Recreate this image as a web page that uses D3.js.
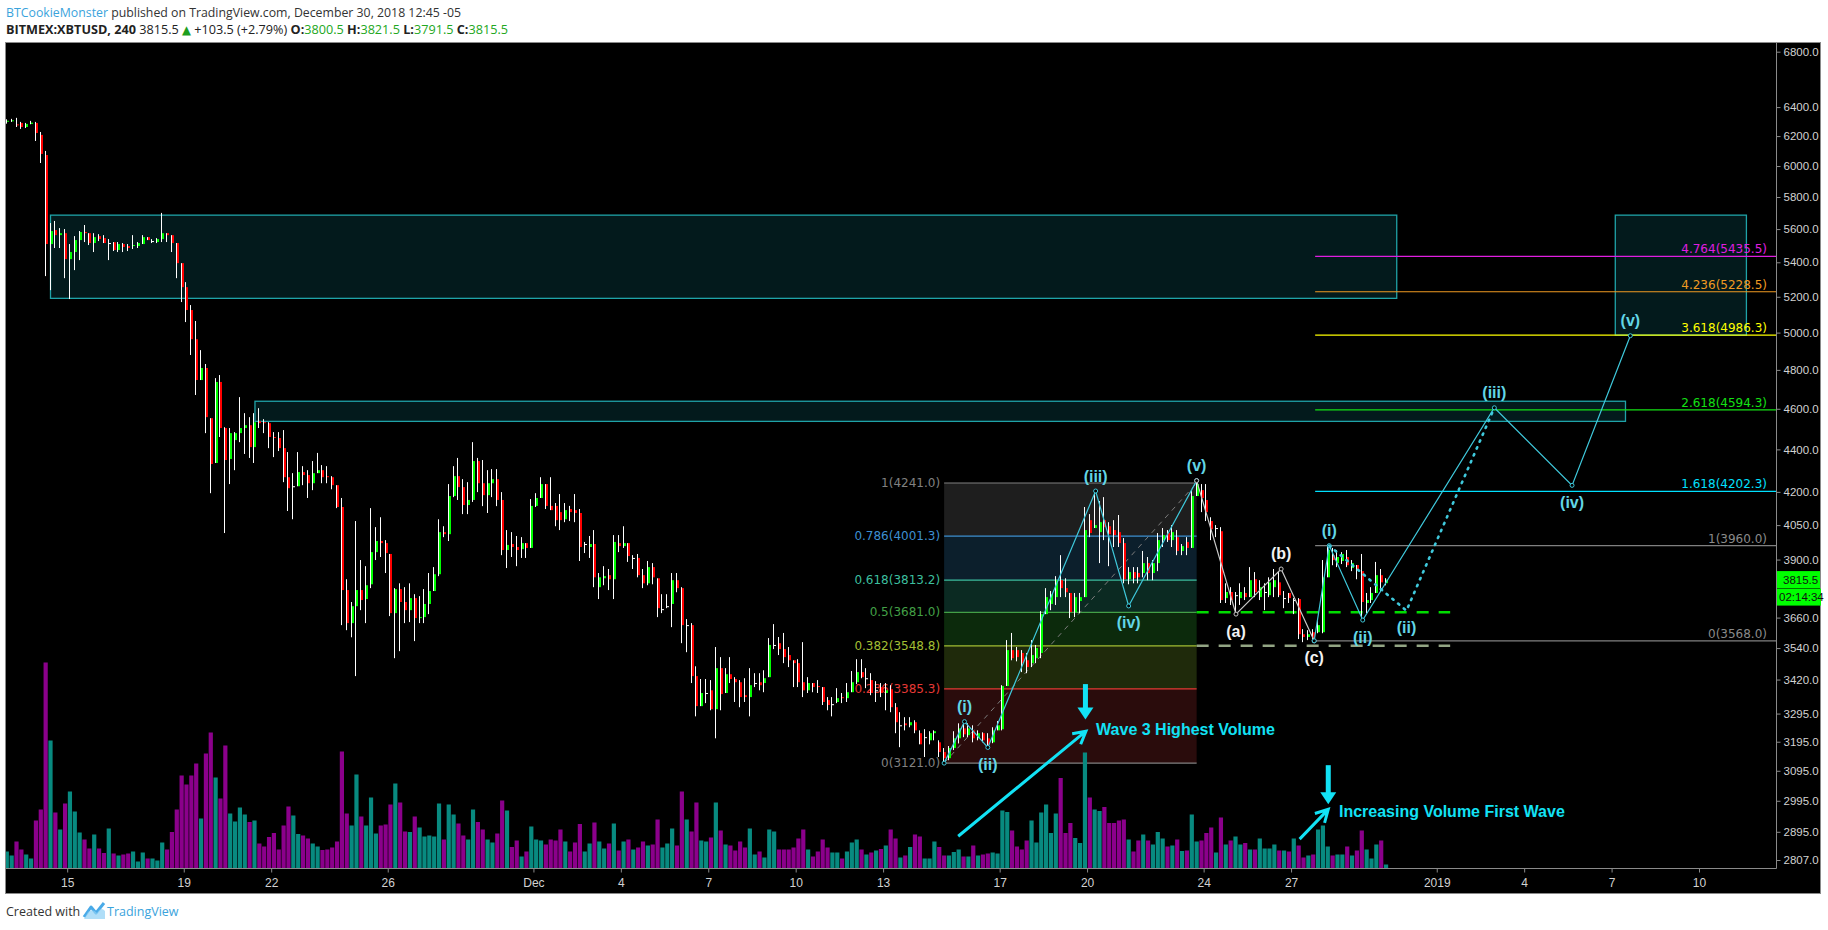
<!DOCTYPE html>
<html>
<head>
<meta charset="utf-8">
<script src="https://cdn.jsdelivr.net/npm/d3@7"></script>
<style>
body { margin: 0; background: #fff; }
svg { display: block; }
</style>
</head>
<body>
<svg id="chart" width="1828" height="930"></svg>
<script>
// BITMEX:XBTUSD 240 - elliott wave count

// bars: 4h candles, first one on Nov 12 late evening
var firstBar = Date.UTC(2018, 10, 12, 22, 15);
var barMs = 4 * 3600 * 1000;

// [open, high, low, close]
var candles = [
 [6300,6315,6285,6305],[6305,6318,6297,6308],[6280,6325,6262,6276],[6290,6297,6249,6262],[6262,6290,6255,6283],
 [6283,6304,6281,6292],[6290,6297,6167,6221],[6208,6228,6020,6080],[6073,6100,5319,5509],[5509,5637,5238,5588],
 [5594,5650,5485,5563],[5563,5606,5485,5575],[5575,5600,5307,5419],[5419,5509,5187,5461],[5461,5557,5354,5533],
 [5533,5588,5413,5582],[5582,5625,5521,5575],[5575,5575,5503,5515],[5515,5575,5461,5551],[5557,5569,5527,5539],
 [5545,5563,5515,5515],[5515,5539,5413,5515],[5520,5521,5467,5473],[5473,5521,5461,5509],[5509,5515,5461,5491],
 [5497,5509,5467,5485],[5497,5563,5479,5503],[5497,5521,5485,5515],[5509,5563,5509,5551],[5551,5551,5533,5533],
 [5527,5539,5515,5527],[5521,5545,5515,5539],[5539,5700,5521,5575],[5575,5575,5521,5563],[5563,5563,5461,5515],
 [5515,5515,5307,5395],[5395,5395,5170,5255],[5255,5284,5058,5125],[5125,5153,4879,4964],[4964,5064,4670,4747],
 [4747,4905,4747,4810],[4810,4831,4479,4558],[4553,4553,4194,4330],[4335,4757,4335,4737],[4737,4773,4460,4504],
 [4504,4508,4015,4349],[4354,4504,4236,4479],[4445,4484,4301,4479],[4479,4659,4435,4504],[4504,4578,4378,4518],
 [4518,4558,4359,4411],[4411,4578,4335,4533],[4538,4603,4504,4528],[4533,4548,4479,4528],[4528,4533,4406,4460],
 [4460,4484,4363,4455],[4455,4484,4392,4406],[4406,4494,4245,4268],[4268,4387,4113,4217],[4226,4287,4076,4226],
 [4226,4387,4226,4292],[4292,4320,4231,4278],[4278,4301,4172,4240],[4240,4344,4208,4287],[4287,4383,4287,4301],
 [4301,4325,4240,4268],[4273,4320,4240,4268],[4268,4273,4212,4231],[4231,4231,4126,4131],[4131,4172,3630,3772],
 [3772,3817,3610,3638],[3638,3723,3582,3706],[3706,4068,3433,3772],[3772,3898,3690,3731],[3735,3872,3638,3792],
 [3796,4126,3780,3932],[3932,4041,3898,3980],[3980,4085,3911,3971],[3971,3984,3843,3928],[3924,3924,3666,3678],
 [3678,3780,3501,3776],[3776,3800,3528,3723],[3723,3784,3638,3690],[3690,3800,3642,3739],[3739,3755,3567,3658],
 [3658,3747,3638,3662],[3662,3776,3638,3715],[3715,3843,3674,3768],[3768,3868,3768,3838],[3838,4076,3830,4019],
 [4019,4045,3997,4010],[4010,4236,3980,4181],[4181,4320,4176,4273],[4273,4359,4163,4222],[4222,4259,4099,4140],
 [4140,4245,4099,4163],[4163,4435,4154,4344],[4344,4359,4199,4240],[4240,4349,4135,4185],[4185,4301,4104,4240],
 [4240,4306,4176,4259],[4259,4306,4135,4163],[4163,4199,3919,3941],[3941,4028,3864,3963],[3967,4019,3911,3954],
 [3954,4002,3872,3941],[3945,3997,3907,3971],[3971,3971,3907,3950],[3950,4167,3950,4136],[4136,4194,4131,4172],
 [4172,4268,4172,4236],[4236,4236,4122,4136],[4136,4268,4117,4117],[4136,4149,4045,4072],[4108,4190,4028,4072],
 [4076,4149,4063,4117],[4122,4136,4068,4108],[4117,4190,4063,4104],[4104,4122,3894,3954],[3967,3976,3928,3967],
 [3954,4002,3907,3967],[3967,4028,3784,3825],[3784,3843,3735,3825],[3821,3872,3792,3830],[3834,3860,3772,3817],
 [3817,4006,3735,3976],[3971,4006,3932,3958],[3958,4045,3950,3971],[3971,3971,3890,3915],[3907,3919,3860,3907],
 [3907,3924,3825,3834],[3834,3860,3780,3800],[3800,3894,3792,3868],[3868,3885,3796,3825],[3821,3821,3662,3698],
 [3694,3755,3678,3694],[3706,3755,3698,3706],[3715,3843,3622,3813],[3813,3843,3763,3780],[3780,3784,3559,3630],
 [3630,3654,3524,3630],[3630,3638,3407,3433],[3433,3470,3285,3322],[3322,3422,3322,3370],[3370,3422,3333,3370],
 [3380,3418,3307,3311],[3311,3544,3207,3463],[3463,3505,3307,3366],[3370,3463,3370,3440],[3440,3505,3407,3422],
 [3422,3429,3337,3410],[3410,3418,3318,3355],[3362,3425,3337,3355],[3355,3463,3285,3399],[3407,3444,3392,3407],
 [3410,3444,3380,3399],[3407,3455,3373,3425],[3429,3579,3429,3552],[3552,3634,3536,3552],[3559,3583,3513,3536],
 [3536,3599,3482,3505],[3513,3544,3467,3493],[3493,3493,3392,3482],[3482,3497,3392,3410],[3410,3563,3355,3380],
 [3380,3429,3370,3407],[3407,3407,3373,3392],[3396,3418,3370,3392],[3392,3392,3326,3337],[3344,3355,3307,3326],
 [3329,3355,3285,3329],[3337,3388,3333,3351],[3355,3370,3333,3351],[3351,3407,3337,3373],[3373,3452,3373,3410],
 [3410,3497,3403,3448],[3448,3497,3425,3429],[3425,3463,3388,3425],[3418,3444,3362,3370],[3380,3414,3337,3380],
 [3392,3407,3355,3370],[3370,3407,3307,3380],[3384,3399,3300,3318],[3318,3333,3225,3264],[3253,3300,3176,3253],
 [3260,3282,3235,3253],[3253,3282,3246,3264],[3264,3271,3225,3235],[3225,3235,3186,3186],[3211,3239,3142,3211],
 [3200,3232,3186,3225],[3225,3235,3200,3232],[3193,3200,3142,3159],[3159,3173,3121,3138],[3138,3180,3131,3173],
 [3173,3232,3166,3207],[3207,3260,3189,3242],[3242,3266,3211,3221],[3218,3260,3211,3242],[3235,3253,3193,3207],
 [3207,3235,3200,3225],[3225,3228,3193,3200],[3207,3225,3175,3183],[3193,3246,3190,3235],[3235,3268,3235,3253],
 [3239,3399,3235,3396],[3396,3571,3396,3532],[3532,3599,3493,3501],[3532,3544,3489,3505],[3521,3532,3448,3482],
 [3493,3521,3444,3467],[3482,3571,3467,3513],[3501,3552,3482,3540],[3521,3686,3501,3674],[3674,3780,3674,3743],
 [3715,3768,3690,3755],[3743,3830,3711,3813],[3813,3919,3743,3780],[3780,3821,3743,3763],[3760,3760,3658,3682],
 [3682,3760,3662,3743],[3727,3760,3678,3743],[3743,4131,3743,4028],[4072,4099,3997,4015],[4037,4204,4037,4050],
 [4019,4158,3885,4063],[4072,4176,3984,4041],[4045,4063,3872,4010],[4028,4072,3954,4006],[4019,4095,3954,3971],
 [3971,3993,3800,3817],[3817,3868,3796,3847],[3847,3868,3800,3821],[3843,3868,3800,3825],[3843,3937,3825,3885],
 [3885,3911,3813,3843],[3843,3898,3813,3885],[3885,4015,3851,3984],[3984,4037,3954,4006],[4015,4028,3976,3984],
 [3984,4050,3954,4019],[3997,4028,3919,3937],[3937,3967,3919,3958],[3976,3997,3919,3950],[3950,4208,3950,4181],
 [4181,4241,4181,4236],[4208,4236,4108,4172],[4163,4236,4068,4108],[4068,4085,3984,4032],[4037,4050,3997,4037],
 [4023,4041,3719,3731],[3739,3800,3719,3764],[3764,3784,3711,3731],[3751,3764,3674,3751],[3739,3800,3711,3764],
 [3760,3784,3731,3743],[3743,3868,3743,3813],[3817,3847,3743,3763],[3743,3813,3731,3784],[3764,3800,3690,3764],
 [3751,3825,3743,3804],[3784,3860,3743,3813],[3804,3847,3743,3751],[3739,3768,3698,3739],[3760,3760,3719,3739],
 [3731,3739,3674,3731],[3735,3739,3575,3594],[3594,3614,3563,3583],[3583,3610,3571,3594],[3602,3614,3568,3571],
 [3602,3646,3598,3630],[3602,3898,3598,3825],[3825,3960,3825,3941],[3919,3950,3876,3898],[3885,3941,3868,3911],
 [3894,3932,3881,3924],[3911,3941,3868,3876],[3864,3898,3851,3885],[3877,3877,3817,3855],[3851,3924,3650,3723],
 [3719,3760,3678,3731],[3731,3784,3719,3760],[3760,3890,3760,3834],[3834,3860,3768,3804],[3800.5,3821.5,3791.5,3815.5]
];

// volume, millions of contracts
var volumes = [
 33,25,53,37,27,19,95,117,411,255, 111,77,129,153,113,71,57,39,67,39,
 30,79,29,25,27,29,33,13,31,19, 19,15,51,37,72,117,185,167,185,209,
 99,229,271,181,139,245,109,93,121,107, 92,95,49,43,62,70,37,85,123,105,
 68,65,59,49,43,36,37,41,53,233, 109,85,187,103,85,141,69,85,87,127,
 169,131,73,72,103,81,63,65,63,129, 57,127,107,89,65,57,117,92,77,57,
 51,69,135,115,42,55,23,33,83,57, 55,47,57,55,77,53,33,51,88,33,
 49,91,53,39,49,89,35,53,57,37, 41,53,45,47,97,41,49,79,45,153,
 97,73,131,55,53,61,131,75,47,45, 35,53,41,79,27,33,21,77,73,37,
 37,37,41,59,77,37,23,33,57,41, 31,31,19,33,51,57,37,27,31,35,
 38,45,77,59,21,25,42,67,63,19, 19,53,42,25,25,32,37,23,23,45,
 25,27,29,31,29,115,112,75,43,37, 55,95,51,111,127,70,109,180,70,90,
 60,50,231,141,117,114,122,90,90,95, 97,57,33,55,67,55,47,72,59,43,
 45,57,34,35,107,53,55,70,81,31, 101,47,55,63,47,50,37,37,59,39,
 39,47,35,35,33,59,45,21,25,27, 77,85,43,25,27,27,43,25,35,75,
 37,19,47,55,7
];

var priceTicks = [6800, 6400, 6200, 6000, 5800, 5600, 5400, 5200, 5000, 4800, 4600, 4400,
                  4200, 4050, 3900, 3660, 3540, 3420, 3295, 3195, 3095, 2995, 2895, 2807];
var dateTicks = ["2018-11-15", "2018-11-19", "2018-11-22", "2018-11-26", "2018-12-01", "2018-12-04",
                 "2018-12-07", "2018-12-10", "2018-12-13", "2018-12-17", "2018-12-20", "2018-12-24",
                 "2018-12-27", "2019-01-01", "2019-01-04", "2019-01-07", "2019-01-10"];

// supply / demand zones: [from bar, to bar, top price, bottom price]
var zones = [[9, 286.2, 5686, 5191], [51.1, 333.3, 4638, 4537], [331.2, 358.2, 5686, 4986]];

// fib retracement of the first impulse (bar 193 low -> bar 245 high)
var fibFrom = 193, fibTo = 245;
var fibLevels = ["0", "0.236", "0.382", "0.5", "0.618", "0.786", "1"];
var fibPrices = [3121.0, 3385.3, 3548.8, 3681.0, 3813.2, 4001.3, 4241.0];
var fibLineColors = ["#808080", "#e53935", "#a3bf33", "#43a047", "#3cbf9f", "#3d8fd1", "#808080"];
var fibBandColors = ["#2a0c0c", "#1f2a0b", "#0c2a0c", "#0b2a22", "#0c1f2c", "#1e1e1e"];

// fib extension from the (c) low
var extFrom = 269.4;
var extLevels = ["0", "1", "1.618", "2.618", "3.618", "4.236", "4.764"];
var extPrices = [3568.0, 3960.0, 4202.3, 4594.3, 4986.3, 5228.5, 5435.5];
var extColors = ["#808080", "#808080", "#00e1ff", "#14e014", "#ffff00", "#f09a22", "#e01ee0"];

// dashed support lines: [price, from bar, to bar, color]
var dashLines = [[3681.0, 245, 297.2, "#00dd00"], [3548.8, 245, 297.2, "#93a584"]];

// wave counts: [bar, price, label]
var impulseA = [[193, 3121, ""], [197.2, 3266, "(i)"], [202, 3175, "(ii)"], [224.2, 4204, "(iii)"], [231, 3707, "(iv)"], [245, 4252, "(v)"]];
var correction = [[245, 4252, ""], [253.1, 3674, "(a)"], [262.4, 3860, "(b)"], [269.2, 3568, "(c)"]];
var impulseB = [[269.2, 3568, ""], [272.3, 3960, "(i)"], [279.2, 3650, "(ii)"], [306.3, 4605, "(iii)"], [322.3, 4230, "(iv)"], [334.3, 4983, "(v)"]];
var altCount = [[272.3, 3960, ""], [288.2, 3688, "(ii)"], [306.3, 4605, ""]];

// notes: arrows [from bar, from price, to bar, to price]
var noteArrows = [[195.9, 2881, 222.2, 3232], [266.2, 2872, 272.1, 2967]];
var noteDowns = [[222.1, 3403, 3274], [272.1, 3114, 2984]];
var noteTexts = [[224.3, 3238, "Wave 3 Highest Volume"], [274.3, 2960, "Increasing Volume First Wave"]];

var lastPrice = 3815.5;

//################################### draw ##################################
var svg = d3.select("#chart");
var plot = { left: 6, top: 43, right: 1776, bottom: 868 };

var x = d3.scaleUtc()
    .domain([new Date(Date.UTC(2018, 10, 15)), new Date(Date.UTC(2019, 0, 10))])
    .range([67.2, 1699]);
function xb(i) { return x(new Date(firstBar + i * barMs)); }
var y = d3.scaleLog().domain([2807, 6800]).range([860, 51.7]);
var yv = d3.scaleLinear().domain([0, 460]).range([plot.bottom, plot.bottom - 230]);

var cyan = "#3fc9dc", cyanText = "#62d6e6", noteCyan = "#12e2f5";

// header
var head = svg.append("g").attr("font-family", "'Open Sans', sans-serif").attr("font-size", 13);
var h1 = head.append("text").attr("x", 6).attr("y", 17)
    .attr("textLength", 455).attr("lengthAdjust", "spacingAndGlyphs");
h1.append("tspan").attr("fill", "#3aa3dc").text("BTCookieMonster");
h1.append("tspan").attr("fill", "#333").text(" published on TradingView.com, December 30, 2018 12:45 -05");
var h2 = head.append("text").attr("x", 6).attr("y", 34).attr("fill", "#222")
    .attr("textLength", 502).attr("lengthAdjust", "spacingAndGlyphs");
h2.append("tspan").attr("font-weight", "bold").text("BITMEX:XBTUSD, 240");
h2.append("tspan").text(" 3815.5 ");
h2.append("tspan").attr("fill", "#1e9e1e").attr("font-family", "'DejaVu Sans'").attr("font-size", 12).text("\u25B2");
h2.append("tspan").text(" +103.5 (+2.79%) ");
[["O:", "3800.5"], ["H:", "3821.5"], ["L:", "3791.5"], ["C:", "3815.5"]].forEach(function(p, k) {
    h2.append("tspan").attr("font-weight", "bold").text((k ? " " : "") + p[0]);
    h2.append("tspan").attr("fill", "#22a722").text(p[1]);
});

// chart frame
svg.append("rect")
    .attr("x", 5.5).attr("y", 42.5).attr("width", 1815).attr("height", 851)
    .attr("fill", "#000").attr("stroke", "#8a8a8a");

svg.append("clipPath").attr("id", "plotclip").append("rect")
    .attr("x", plot.left).attr("y", plot.top)
    .attr("width", plot.right - plot.left).attr("height", plot.bottom - plot.top);
var g = svg.append("g").attr("clip-path", "url(#plotclip)");

// zones
g.selectAll(".zone").data(zones).enter().append("rect")
    .attr("class", "zone")
    .attr("x", function(d) { return xb(d[0]); })
    .attr("y", function(d) { return y(d[2]); })
    .attr("width", function(d) { return xb(d[1]) - xb(d[0]); })
    .attr("height", function(d) { return y(d[3]) - y(d[2]); })
    .attr("fill", "#031a1c").attr("stroke", "#1fa3a8").attr("stroke-width", 1.3);

// fib retracement bands
var fx0 = xb(fibFrom), fx1 = xb(fibTo);
g.selectAll(".band").data(fibBandColors).enter().append("rect")
    .attr("x", fx0).attr("width", fx1 - fx0)
    .attr("y", function(d, k) { return y(fibPrices[k + 1]); })
    .attr("height", function(d, k) { return y(fibPrices[k]) - y(fibPrices[k + 1]); })
    .attr("fill", function(d) { return d; });
g.selectAll(".fibline").data(fibPrices).enter().append("line")
    .attr("x1", fx0).attr("x2", fx1)
    .attr("y1", function(d) { return y(d); }).attr("y2", function(d) { return y(d); })
    .attr("stroke", function(d, k) { return fibLineColors[k]; }).attr("stroke-width", 1.2);
g.selectAll(".fiblabel").data(fibPrices).enter().append("text")
    .attr("x", fx0 - 4).attr("y", function(d) { return y(d); })
    .attr("text-anchor", "end").attr("dominant-baseline", "central")
    .attr("font-family", "'DejaVu Sans', sans-serif").attr("font-size", 12)
    .attr("fill", function(d, k) { return fibLineColors[k]; })
    .text(function(d, k) { return fibLevels[k] + "(" + d.toFixed(1) + ")"; });
g.append("line")
    .attr("x1", fx0).attr("y1", y(fibPrices[0])).attr("x2", fx1).attr("y2", y(fibPrices[6]))
    .attr("stroke", "#7c7c7c").attr("stroke-dasharray", "5,5");

// fib extension
g.selectAll(".extline").data(extPrices).enter().append("line")
    .attr("x1", xb(extFrom)).attr("x2", plot.right)
    .attr("y1", function(d) { return y(d); }).attr("y2", function(d) { return y(d); })
    .attr("stroke", function(d, k) { return extColors[k]; }).attr("stroke-width", 1.2);
g.selectAll(".extlabel").data(extPrices).enter().append("text")
    .attr("x", plot.right - 9).attr("y", function(d) { return y(d) - 7; })
    .attr("text-anchor", "end").attr("dominant-baseline", "central")
    .attr("font-family", "'DejaVu Sans', sans-serif").attr("font-size", 12)
    .attr("fill", function(d, k) { return k < 2 ? "#8a8a8a" : extColors[k]; })
    .text(function(d, k) { return extLevels[k] + "(" + d.toFixed(1) + ")"; });

// dashed support
g.selectAll(".dash").data(dashLines).enter().append("line")
    .attr("x1", function(d) { return xb(d[1]); }).attr("x2", function(d) { return xb(d[2]); })
    .attr("y1", function(d) { return y(d[0]); }).attr("y2", function(d) { return y(d[0]); })
    .attr("stroke", function(d) { return d[3]; }).attr("stroke-width", 2.5)
    .attr("stroke-dasharray", "12,10");

// volume
g.selectAll(".vol").data(volumes).enter().append("rect")
    .attr("x", function(d, i) { return xb(i) - 2.1; })
    .attr("width", 4.2)
    .attr("y", function(d) { return yv(d); })
    .attr("height", function(d) { return plot.bottom - yv(d); })
    .attr("fill", function(d, i) { return candles[i][3] >= candles[i][0] ? "#088a80" : "#8b008b"; });

// candles
var cg = g.selectAll(".candle").data(candles).enter().append("g");
cg.append("rect")
    .attr("x", function(d, i) { return Math.round(xb(i)) - 1; })
    .attr("width", 1)
    .attr("y", function(d) { return y(d[1]); })
    .attr("height", function(d) { return Math.max(1, y(d[2]) - y(d[1])); })
    .attr("fill", "#fff");
cg.append("rect")
    .attr("x", function(d, i) { return Math.round(xb(i)); })
    .attr("width", 2)
    .attr("y", function(d) { return y(Math.max(d[0], d[3])); })
    .attr("height", function(d) { return Math.max(1, Math.abs(y(d[0]) - y(d[3]))); })
    .attr("fill", function(d) { return d[3] > d[0] ? "#00ff00" : (d[3] < d[0] ? "#ff0000" : "#fff"); });

// wave counts
var wline = d3.line().x(function(d) { return xb(d[0]); }).y(function(d) { return y(d[1]); });
function drawWave(pts, color, labelColor, dash) {
    g.append("path").datum(pts)
        .attr("d", wline).attr("fill", "none")
        .attr("stroke", color).attr("stroke-width", dash ? 2.6 : 1.2)
        .attr("stroke-dasharray", dash ? "1.5,6" : null)
        .attr("stroke-linecap", "round");
    if (!dash) {
        g.selectAll(null).data(pts).enter().append("circle")
            .attr("cx", function(d) { return xb(d[0]); }).attr("cy", function(d) { return y(d[1]); })
            .attr("r", 2).attr("fill", "#000").attr("stroke", color).attr("stroke-width", 1);
    }
    g.selectAll(null).data(pts.filter(function(d) { return d[2]; })).enter().append("text")
        .attr("x", function(d) { return xb(d[0]); })
        .attr("y", function(d) {
            var k = pts.indexOf(d), up = d[1] > pts[k - 1][1];
            return y(d[1]) + (up ? -15 : 17);
        })
        .attr("text-anchor", "middle").attr("dominant-baseline", "central")
        .attr("font-family", "'Liberation Sans', Arial, sans-serif")
        .attr("font-size", 16).attr("font-weight", "bold")
        .attr("fill", labelColor)
        .text(function(d) { return d[2]; });
}
drawWave(impulseA, cyan, cyanText, false);
drawWave(correction, "#c8c8c8", "#f2f2f2", false);
drawWave(impulseB, cyan, cyanText, false);
drawWave(altCount, cyan, cyanText, true);

// notes
noteArrows.forEach(function(a) {
    var x1 = xb(a[0]), y1 = y(a[1]), x2 = xb(a[2]), y2 = y(a[3]);
    var ang = Math.atan2(y2 - y1, x2 - x1), len = 14;
    g.append("path")
        .attr("d", "M" + x1 + "," + y1 + "L" + x2 + "," + y2 +
            "M" + (x2 - len * Math.cos(ang - 0.5)) + "," + (y2 - len * Math.sin(ang - 0.5)) +
            "L" + x2 + "," + y2 +
            "L" + (x2 - len * Math.cos(ang + 0.5)) + "," + (y2 - len * Math.sin(ang + 0.5)))
        .attr("fill", "none").attr("stroke", noteCyan).attr("stroke-width", 3);
});
noteDowns.forEach(function(a) {
    var cx = xb(a[0]), y1 = y(a[1]), y2 = y(a[2]);
    g.append("rect").attr("x", cx - 2.5).attr("y", y1).attr("width", 5).attr("height", y2 - y1 - 11)
        .attr("fill", noteCyan);
    g.append("path").attr("d", "M" + (cx - 8) + "," + (y2 - 12) + "L" + (cx + 8) + "," + (y2 - 12) + "L" + cx + "," + y2 + "Z")
        .attr("fill", noteCyan);
});
g.selectAll(".note").data(noteTexts).enter().append("text")
    .attr("x", function(d) { return xb(d[0]); }).attr("y", function(d) { return y(d[1]); })
    .attr("dominant-baseline", "central")
    .attr("font-family", "'Liberation Sans', Arial, sans-serif")
    .attr("font-size", 16).attr("font-weight", "bold")
    .attr("fill", noteCyan)
    .text(function(d) { return d[2]; });

// axes
svg.append("line").attr("x1", plot.right + 0.5).attr("x2", plot.right + 0.5)
    .attr("y1", plot.top).attr("y2", plot.bottom + 0.5).attr("stroke", "#8a8a8a");
svg.append("line").attr("x1", plot.left).attr("x2", plot.right + 0.5)
    .attr("y1", plot.bottom + 0.5).attr("y2", plot.bottom + 0.5).attr("stroke", "#8a8a8a");

var yAxis = svg.append("g")
    .attr("transform", "translate(" + (plot.right + 0.5) + ",0)")
    .call(d3.axisRight(y).tickValues(priceTicks).tickFormat(d3.format(".1f")).tickSize(4).tickPadding(3));
yAxis.select(".domain").remove();
yAxis.selectAll("line").attr("stroke", "#8a8a8a");
yAxis.selectAll("text").attr("fill", "#d2d2d2")
    .attr("font-family", "'Liberation Sans', Arial, sans-serif").attr("font-size", 11.5);

var parseDay = d3.utcParse("%Y-%m-%d");
var xAxis = svg.append("g")
    .attr("transform", "translate(0," + (plot.bottom + 0.5) + ")")
    .call(d3.axisBottom(x).tickValues(dateTicks.map(parseDay)).tickSize(4).tickPadding(6)
        .tickFormat(function(d) {
            if (d.getUTCDate() === 1) return d.getUTCMonth() === 0 ? d3.utcFormat("%Y")(d) : d3.utcFormat("%b")(d);
            return d.getUTCDate();
        }));
xAxis.select(".domain").remove();
xAxis.selectAll("line").attr("stroke", "#8a8a8a");
xAxis.selectAll("text").attr("fill", "#d2d2d2")
    .attr("font-family", "'Liberation Sans', Arial, sans-serif").attr("font-size", 12);

// last price tag + bar countdown
var ly = y(lastPrice);
svg.append("rect").attr("x", plot.right + 1).attr("y", ly - 8.5).attr("width", 43).attr("height", 17).attr("fill", "#00ff00");
svg.append("text").attr("x", plot.right + 7).attr("y", ly).attr("dominant-baseline", "central")
    .attr("font-family", "'Liberation Sans', Arial, sans-serif").attr("font-size", 11.5).attr("fill", "#111")
    .text(d3.format(".1f")(lastPrice));
svg.append("rect").attr("x", plot.right + 1).attr("y", ly + 9).attr("width", 44).attr("height", 17).attr("fill", "#00ff00");
svg.append("text").attr("x", plot.right + 3).attr("y", ly + 17.5).attr("dominant-baseline", "central")
    .attr("font-family", "'Liberation Sans', Arial, sans-serif").attr("font-size", 11.5).attr("fill", "#111")
    .text("02:14:34");

// footer
var foot = svg.append("g").attr("font-family", "'Open Sans', sans-serif").attr("font-size", 12.5);
foot.append("text").attr("x", 6).attr("y", 916).attr("fill", "#333").text("Created with");
foot.append("path")
    .attr("d", "M84,917 L91,907 L96,913 L104,903")
    .attr("fill", "none").attr("stroke", "#49aae8").attr("stroke-width", 3).attr("stroke-linejoin", "round");
foot.append("path")
    .attr("d", "M84,919 L105,919 L105,911 Q101,906 97,913 Q93,908 88,912 Z")
    .attr("fill", "#8fd0f5").attr("opacity", 0.7);
foot.append("text").attr("x", 107).attr("y", 916).attr("fill", "#3aa3dc").text("TradingView");
</script>
</body>
</html>
